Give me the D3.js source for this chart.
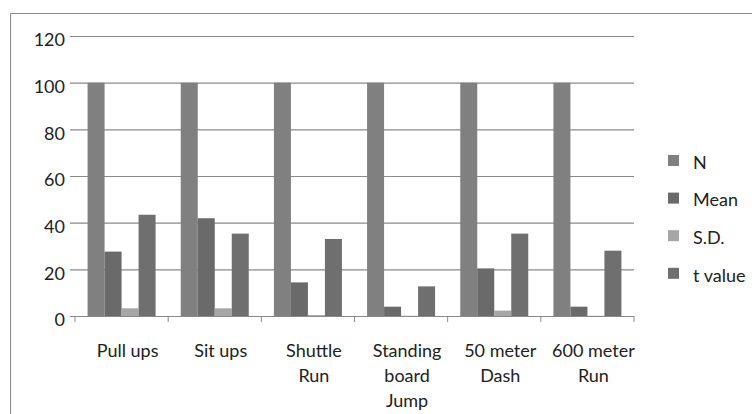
<!DOCTYPE html>
<html><head><meta charset="utf-8">
<script src="https://cdn.jsdelivr.net/npm/d3@7"></script>
<style>body{margin:0;background:#fff}svg{display:block}</style>
</head><body>
<script>
const categories = ["Pull ups","Sit ups","Shuttle Run","Standing board Jump","50 meter Dash","600 meter Run"];
const seriesNames = ["N","Mean","S.D.","t value"];
const valuesN     = [100,100,100,100,100,100];
const valuesMean  = [27.6,41.9,14.4,4.0,20.4,4.0];
const valuesSD    = [3.3,3.3,0.4,0.1,2.3,0.1];
const valuesT     = [43.4,35.3,33.0,12.7,35.3,28.0];
const yTicks      = [0,20,40,60,80,100,120];
const colors      = ["#808080","#6a6a6a","#a6a6a6","#6f6f6f"];

const series = [valuesN, valuesMean, valuesSD, valuesT];
const W = 752, H = 414;
const svg = d3.select("body").append("svg").attr("width",W).attr("height",H);
const font = "Lato, 'Open Sans', sans-serif";

// outer frame
svg.append("line").attr("x1",10.5).attr("x2",W).attr("y1",13.5).attr("y2",13.5).attr("stroke","#8c8c8c");
svg.append("line").attr("x1",10.5).attr("x2",10.5).attr("y1",13.5).attr("y2",H).attr("stroke","#8c8c8c");

const x0 = d3.scaleBand().domain(categories).range([75,634]);
const x1 = d3.scaleBand().domain(seriesNames).range([0,68]);
const y = d3.scaleLinear().domain([0,120]).range([316,36]);

// gridlines + y labels
const yAxis = d3.axisLeft(y).tickValues(yTicks).tickSize(-(634-70)).tickPadding(8);
const gy = svg.append("g").attr("transform","translate(70,0)").call(yAxis);
gy.select(".domain").remove();
gy.selectAll(".tick line").attr("x1",0).attr("x2",634-70).attr("stroke","#8a8a8a").attr("stroke-width",1.2);
gy.selectAll(".tick text").attr("x",-5).attr("dy","0.55em").attr("font-family",font).attr("font-size",18).attr("fill","#222");

// bars
const groups = svg.append("g").selectAll("g").data(categories).join("g")
  .attr("transform", d => `translate(${x0(d) + (x0.bandwidth()-68)/2},0)`);
groups.selectAll("rect").data((c,i) => seriesNames.map((s,j) => ({s, v: series[j][i], j})))
  .join("rect")
  .attr("x", d => x1(d.s))
  .attr("width", x1.bandwidth())
  .attr("y", d => y(d.v))
  .attr("height", d => y(0) - y(d.v))
  .attr("fill", d => colors[d.j]);

// category axis
const xAxis = d3.axisBottom(x0).tickSize(0).tickFormat("");
const gx = svg.append("g").attr("transform","translate(0,316)").call(xAxis);
gx.select(".domain").attr("d","M70,0.5H634").attr("stroke","#8a8a8a").attr("stroke-width",1.2);
const bounds = categories.map(c => x0(c)).concat([634]);
gx.selectAll(".bt").data(bounds).join("line").attr("class","bt")
  .attr("x1",d=>d).attr("x2",d=>d).attr("y1",0).attr("y2",6).attr("stroke","#8a8a8a");

// category labels with wrapping
const measure = svg.append("text").attr("font-family",font).attr("font-size",18);
function wrap(str, maxW){
  const words = str.split(" "); const lines = []; let cur = "";
  words.forEach(w => {
    const t = cur ? cur + " " + w : w;
    measure.text(t);
    if (measure.node().getComputedTextLength() > maxW && cur) { lines.push(cur); cur = w; }
    else cur = t;
  });
  if (cur) lines.push(cur);
  return lines;
}
categories.forEach(c => {
  const lines = wrap(c, 86);
  const t = svg.append("text").attr("font-family",font).attr("font-size",18).attr("fill","#222")
    .attr("text-anchor","middle");
  lines.forEach((l,i) => t.append("tspan").attr("x", x0(c) + x0.bandwidth()/2 + 6).attr("y", 357 + i*25).text(l));
});
measure.remove();

// legend
const leg = svg.append("g").selectAll("g").data(seriesNames).join("g")
  .attr("transform",(d,i)=>`translate(668,${155 + i*37.6})`);
leg.append("rect").attr("width",11).attr("height",11).attr("fill",(d,i)=>colors[i]);
leg.append("text").attr("x",25).attr("y",11).attr("dy","0.15em").attr("font-family",font).attr("font-size",18).attr("fill","#222").text(d=>d);
</script>
</body></html>
